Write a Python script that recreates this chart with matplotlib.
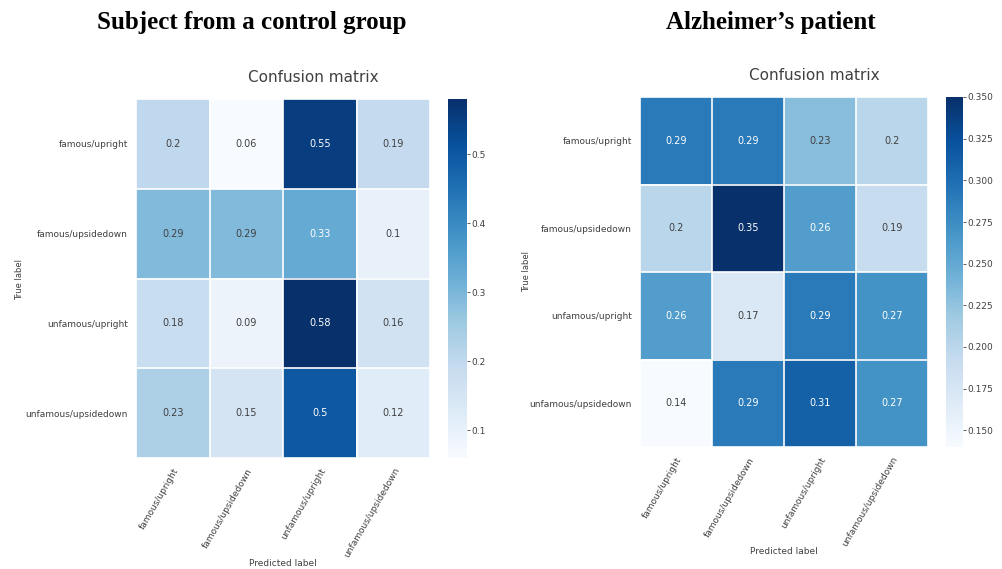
import numpy as np
import matplotlib
matplotlib.use("Agg")
import matplotlib.pyplot as plt
from matplotlib.ticker import FormatStrFormatter

classes = ["famous/upright", "famous/upsidedown", "unfamous/upright", "unfamous/upsidedown"]

control_cm = [
    [0.20, 0.06, 0.55, 0.19],
    [0.29, 0.29, 0.33, 0.10],
    [0.18, 0.09, 0.58, 0.16],
    [0.23, 0.15, 0.50, 0.12],
]
patient_cm = [
    [0.29, 0.29, 0.23, 0.20],
    [0.20, 0.35, 0.26, 0.19],
    [0.26, 0.17, 0.29, 0.27],
    [0.14, 0.29, 0.31, 0.27],
]
control_ticks = [0.1, 0.2, 0.3, 0.4, 0.5]
patient_ticks = [0.150, 0.175, 0.200, 0.225, 0.250, 0.275, 0.300, 0.325, 0.350]

TXT = "0.25"
W, H = 1002, 569


def px_rect(x0, y0, x1, y1):
    return [x0 / W, 1 - y1 / H, (x1 - x0) / W, (y1 - y0) / H]


def draw_cm(fig, cm, rect, cbar_rect, ticks, fmt, title_xy, ylab_xy, xlab_xy):
    cm = np.array(cm)
    ax = fig.add_axes(px_rect(*rect))
    vmin, vmax = cm.min(), cm.max()
    im = ax.imshow(cm, cmap="Blues", aspect="auto", vmin=vmin, vmax=vmax,
                   interpolation="nearest")
    n = len(classes)
    ax.set_xticks(np.arange(n))
    ax.set_yticks(np.arange(n))
    ax.set_xticklabels(classes, rotation=60, ha="right", rotation_mode="anchor",
                       fontsize=6.5, color=TXT)
    ax.set_yticklabels(classes, fontsize=6.5, color=TXT)
    ax.tick_params(length=0, pad=6)
    ax.set_xticks(np.arange(-0.5, n, 1), minor=True)
    ax.set_yticks(np.arange(-0.5, n, 1), minor=True)
    ax.grid(which="minor", color="white", linewidth=1.2)
    ax.tick_params(which="minor", length=0)
    for s in ax.spines.values():
        s.set_visible(False)

    # text turns white above the midpoint of the colour range
    thresh = (vmax + vmin) / 2
    for i in range(n):
        for j in range(n):
            v = cm[i, j]
            ax.text(j, i, f"{v:g}", ha="center", va="center", fontsize=7,
                    color="white" if v > thresh else TXT)

    cax = fig.add_axes(px_rect(*cbar_rect))
    cb = fig.colorbar(im, cax=cax, ticks=ticks)
    cb.outline.set_visible(False)
    cb.ax.yaxis.set_major_formatter(FormatStrFormatter(fmt))
    cb.ax.tick_params(labelsize=6.5, labelcolor=TXT, length=2, width=0.6, color=TXT, pad=1)

    fig.text(title_xy[0] / W, 1 - title_xy[1] / H, "Confusion matrix",
             ha="center", va="center", fontsize=11, color=TXT)
    fig.text(ylab_xy[0] / W, 1 - ylab_xy[1] / H, "True label", rotation=90,
             ha="center", va="center", fontsize=6, color=TXT)
    fig.text(xlab_xy[0] / W, 1 - xlab_xy[1] / H, "Predicted label",
             ha="center", va="center", fontsize=6.5, color=TXT)


fig = plt.figure(figsize=(W / 100, H / 100), dpi=100)

draw_cm(fig, control_cm, (136, 99, 430, 458), (448, 99, 467, 458), control_ticks, "%.1f",
        (313, 77), (20, 280), (283, 563))
draw_cm(fig, patient_cm, (640, 97, 928, 447), (946, 97, 963, 447), patient_ticks, "%.3f",
        (814, 75), (527, 272), (784, 551))

fig.text(252 / W, 1 - 22 / H, "Subject from a control group", ha="center", va="center",
         fontsize=18, fontweight="bold", family="Liberation Serif")
fig.text(771 / W, 1 - 22 / H, "Alzheimer\u2019s patient", ha="center", va="center",
         fontsize=18, fontweight="bold", family="Liberation Serif")

fig.savefig("out.png", dpi=100)
